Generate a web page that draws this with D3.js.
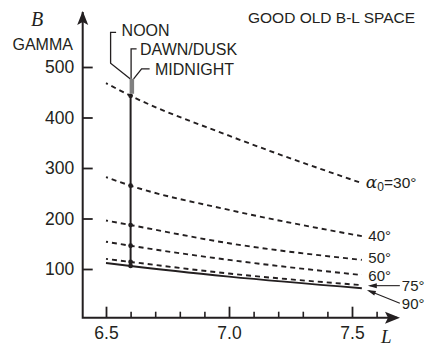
<!DOCTYPE html>
<html>
<head>
<meta charset="utf-8">
<script src="https://cdn.jsdelivr.net/npm/d3@7"></script>
<style>
  html, body { margin: 0; padding: 0; background: #fff; }
  svg { display: block; font-family: 'Liberation Sans', Arial, sans-serif; }
</style>
</head>
<body>
<svg id="chart" width="430" height="347"></svg>
<script>
// values
const lValues = [6.5, 6.6, 7.0, 7.54];
const b30 = [468, 443, 364, 270];
const b40 = [282, 265, 217, 165];
const b50 = [196, 187, 151, 118];
const b60 = [154, 146, 118, 88];
const b75 = [120, 114, 91, 68];
const b90 = [112, 106, 85, 62];
const alphaLabels = ['30°', '40°', '50°', '60°', '75°', '90°'];
const yTicks = [100, 200, 300, 400, 500];
const xTicks = [6.5, 7.0, 7.5];
const xMinorTicks = [6.6, 6.7, 6.8, 6.9, 7.1, 7.2, 7.3, 7.4, 7.6];
const sectorL = 6.6;
const title = 'GOOD OLD B-L SPACE';

const ink = '#231f20';
const svg = d3.select('#chart');

const x = d3.scaleLinear().domain([6.5, 7.5]).range([106, 352]);
const y = d3.scaleLinear().domain([100, 500]).range([269, 67]);

const x0 = 82.7;
const y0 = 317.7;

// axes
const yAxis = svg.append('g')
  .attr('transform', `translate(${x0},0)`)
  .call(d3.axisLeft(y).tickValues(yTicks).tickSizeInner(-10).tickSizeOuter(0).tickPadding(8.5).tickFormat(d3.format('d')));
yAxis.select('.domain').remove();
yAxis.selectAll('line').attr('stroke', ink).attr('stroke-width', 1.8);
yAxis.selectAll('text').attr('font-size', 17.5).attr('fill', ink).attr('font-family', 'Liberation Sans, Arial, sans-serif');

const xAxis = svg.append('g')
  .attr('transform', `translate(0,${y0})`)
  .call(d3.axisBottom(x).tickValues(xTicks).tickSizeInner(-11).tickSizeOuter(0).tickPadding(9).tickFormat(d3.format('.1f')));
xAxis.select('.domain').remove();
xAxis.selectAll('line').attr('stroke', ink).attr('stroke-width', 1.8);
xAxis.selectAll('text').attr('font-size', 17.5).attr('fill', ink).attr('font-family', 'Liberation Sans, Arial, sans-serif');

const xMinor = svg.append('g')
  .attr('transform', `translate(0,${y0})`)
  .call(d3.axisBottom(x).tickValues(xMinorTicks).tickSizeInner(-6).tickSizeOuter(0).tickFormat(''));
xMinor.select('.domain').remove();
xMinor.selectAll('line').attr('stroke', ink).attr('stroke-width', 1.6);

// axis lines with arrows
svg.append('path')
  .attr('d', `M${x0},12 V${y0} H397`)
  .attr('fill', 'none').attr('stroke', ink).attr('stroke-width', 2);
svg.append('path')
  .attr('d', `M${x0},11 L${x0 + 5.5},25 L${x0},22 L${x0 - 5.5},25 Z`)
  .attr('fill', ink);
svg.append('path')
  .attr('d', `M400,${y0} L385,${y0 - 6} L388,${y0} L385,${y0 + 6} Z`)
  .attr('fill', ink);

// axis titles
svg.append('text').attr('x', 31).attr('y', 26)
  .attr('font-family', 'Liberation Serif, serif').attr('font-style', 'italic')
  .attr('font-size', 20).attr('fill', ink).text('B');
svg.append('text').attr('x', 12.5).attr('y', 50)
  .attr('font-size', 16).attr('fill', ink).text('GAMMA');
svg.append('text').attr('x', 381).attr('y', 343)
  .attr('font-family', 'Liberation Serif, serif').attr('font-style', 'italic')
  .attr('font-size', 19).attr('fill', ink).text('L');

svg.append('text').attr('x', 248).attr('y', 23.3)
  .attr('font-size', 15.5).attr('fill', ink).text(title);

// curves
const series = [b30, b40, b50, b60, b75, b90];
const line = d3.line()
  .x((d, i) => x(lValues[i]))
  .y(d => y(d))
  .curve(d3.curveMonotoneX);

svg.append('g')
  .selectAll('path')
  .data(series)
  .join('path')
    .attr('d', d => line(d))
    .attr('fill', 'none')
    .attr('stroke', ink)
    .attr('stroke-width', 1.9)
    .attr('stroke-dasharray', (d, i) => i === series.length - 1 ? null : '5,4')
    .attr('stroke-dashoffset', 3);

// sector line at L = 6.6
const sx = x(sectorL);
const topY = y(b30[1]);
svg.append('line')
  .attr('x1', sx).attr('x2', sx)
  .attr('y1', y(b90[1])).attr('y2', topY)
  .attr('stroke', ink).attr('stroke-width', 2);
svg.append('g')
  .selectAll('circle')
  .data(series)
  .join('circle')
    .attr('cx', sx)
    .attr('cy', d => y(d[1]))
    .attr('r', 2.4)
    .attr('fill', ink);

// local time labels above the sector line
svg.append('rect')
  .attr('x', sx - 1).attr('y', topY - 17)
  .attr('width', 4.5).attr('height', 15)
  .attr('fill', '#808080');

const lead = svg.append('g').attr('fill', 'none').attr('stroke', ink).attr('stroke-width', 1.3);
lead.append('path').attr('d', `M${sx - 0.5},${topY - 17} L${sx - 20},${topY - 32.5} V${topY - 63.5} H${sx - 14.5}`);
lead.append('path').attr('d', `M${sx + 0.5},${topY - 17} V${topY - 47} H${sx + 6}`);
lead.append('path').attr('d', `M${sx + 3},${topY - 17} L${sx + 11},${topY - 27} H${sx + 19}`);

const timeLabels = [
  { text: 'NOON', dx: -9, dy: -59.5 },
  { text: 'DAWN/DUSK', dx: 9.4, dy: -40.5 },
  { text: 'MIDNIGHT', dx: 24.4, dy: -21 }
];
svg.append('g')
  .selectAll('text')
  .data(timeLabels)
  .join('text')
    .attr('x', d => sx + d.dx)
    .attr('y', d => topY + d.dy)
    .attr('font-size', 16)
    .attr('fill', ink)
    .text(d => d.text);

// pitch angle labels
const endX = x(lValues[lValues.length - 1]);
const lab30 = svg.append('text')
  .attr('x', endX + 4).attr('y', y(b30[3]) + 5)
  .attr('font-size', 15.5).attr('fill', ink);
lab30.append('tspan').attr('font-family', 'DejaVu Serif, serif').attr('font-style', 'italic').attr('font-size', 17).text('α');
lab30.append('tspan').attr('dy', 3).attr('font-size', 12).text('0');
lab30.append('tspan').attr('dy', -3).text('=' + alphaLabels[0]);

const labelShift = [4.5, 3.5, 5.5];
svg.append('g')
  .selectAll('text')
  .data([b40, b50, b60])
  .join('text')
    .attr('x', endX + 6.5)
    .attr('y', (d, i) => y(d[3]) + labelShift[i])
    .attr('font-size', 15)
    .attr('fill', ink)
    .text((d, i) => alphaLabels[i + 1]);

svg.append('text').attr('x', endX + 40).attr('y', y(b75[3]) + 6)
  .attr('font-size', 15).attr('fill', ink).text(alphaLabels[4]);
svg.append('text').attr('x', endX + 40).attr('y', y(b90[3]) + 20.5)
  .attr('font-size', 15).attr('fill', ink).text(alphaLabels[5]);

const arrows = svg.append('g').attr('stroke', ink).attr('stroke-width', 1.1).attr('fill', 'none');
arrows.append('line').attr('x1', endX + 38).attr('y1', y(b75[3]) + 0.5).attr('x2', endX + 8).attr('y2', y(b75[3]) + 0.5);
arrows.append('line').attr('x1', endX + 38).attr('y1', y(b90[3]) + 15).attr('x2', endX + 7).attr('y2', y(b90[3]) + 2.5);
svg.append('path')
  .attr('d', `M${endX + 6},${y(b75[3]) + 0.5} l9,-2.5 l0,5 Z`)
  .attr('fill', ink);
const ang = Math.atan2(12.5, 31) * 180 / Math.PI;
svg.append('path')
  .attr('d', 'M0,0 l9,-2.5 l0,5 Z')
  .attr('transform', `translate(${endX + 5},${y(b90[3]) + 1.7}) rotate(${ang})`)
  .attr('fill', ink);
</script>
</body>
</html>
